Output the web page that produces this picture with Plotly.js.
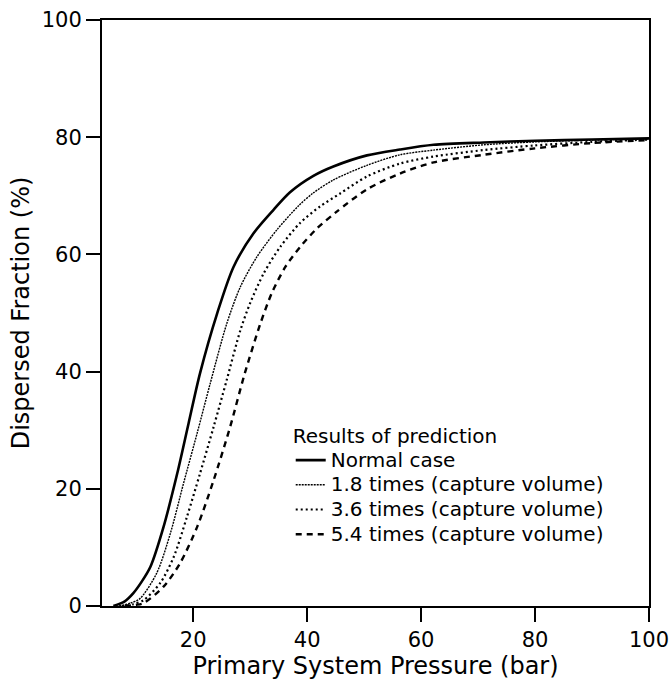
<!DOCTYPE html>
<html>
<head>
<meta charset="utf-8">
<script src="https://cdn.plot.ly/plotly-3.0.1.min.js"></script>
<style>html,body{margin:0;padding:0;background:#fff;}#chart{width:672px;height:689px;}</style>
</head>
<body>
<div id="chart"></div>
<script>
// Data
const seriesNames = ["Normal case", "1.8 times (capture volume)", "3.6 times (capture volume)", "5.4 times (capture volume)"];

const normalX = [6, 8, 9.5, 11, 12.5, 14.8, 17.2, 19.2, 21.2, 24.2, 27.1, 30.6, 34.1, 37, 41.1, 44.6, 50.5, 56.3, 62.2, 71, 80, 90, 100];
const normalY = [0, 0.8, 2.2, 4.2, 6.7, 13.5, 22.6, 31.2, 39.7, 49.9, 57.9, 63.6, 67.6, 70.6, 73.4, 75.0, 76.9, 77.9, 78.7, 79.1, 79.4, 79.6, 79.8];

const t18X = [7, 9, 10.7, 13.6, 16, 18.3, 20.7, 23, 25.9, 28.3, 31.2, 34.7, 38.5, 41.1, 44.6, 50.5, 56.3, 62.2, 71, 80, 90, 100];
const t18Y = [0, 0.5, 1.3, 5.6, 12.4, 20.9, 29.5, 38, 48.2, 54.5, 59.6, 64.2, 68.3, 70.5, 72.7, 75.2, 77, 77.8, 78.7, 79.2, 79.5, 79.7];

const t36X = [7.5, 9.5, 11.3, 14.2, 16.6, 18.9, 21.2, 23.6, 25.9, 28.3, 30, 32.4, 35.3, 38.8, 42.3, 45.8, 50.5, 56.3, 62.2, 71, 80, 90, 100];
const t36Y = [0, 0.3, 1, 3.9, 8.4, 15.2, 22.6, 30.6, 38.6, 47.1, 51.7, 56.8, 61.3, 65.4, 68.2, 70.4, 73.3, 75.5, 76.7, 77.8, 78.6, 79.2, 79.6];

const t54X = [8, 10, 11.3, 14.8, 17.7, 20.7, 23.6, 26.5, 29, 31.8, 33.8, 36.2, 38.8, 41.7, 45.2, 50.5, 56.3, 62.2, 71, 80, 90, 100];
const t54Y = [0, 0.2, 0.5, 3.3, 7.3, 13.5, 21.5, 30.6, 39.5, 48.2, 53.4, 57.9, 61.3, 64.4, 67.3, 71.1, 73.8, 75.7, 77, 78.1, 79, 79.5];

const xTicks = [20, 40, 60, 80, 100];
const yTicks = [0, 20, 40, 60, 80, 100];

const FONT = "DejaVu Sans, sans-serif";
const big = s => '<span style="font-size:20px">' + s + '</span>';

const traces = [
  {x: normalX, y: normalY, name: big(seriesNames[0]), mode: "lines", line: {color: "#000", width: 2.6, shape: "spline", smoothing: 0.8, dash: "solid"}},
  {x: t18X, y: t18Y, name: big(seriesNames[1]), mode: "lines", line: {color: "#000", width: 1.4, shape: "spline", smoothing: 0.8, dash: "2px,1px"}},
  {x: t36X, y: t36Y, name: big(seriesNames[2]), mode: "lines", line: {color: "#000", width: 2.2, shape: "spline", smoothing: 0.8, dash: "2px,3px"}},
  {x: t54X, y: t54Y, name: big(seriesNames[3]), mode: "lines", line: {color: "#000", width: 2.4, shape: "spline", smoothing: 0.8, dash: "6px,5px"}}
];

const layout = {
  width: 672, height: 689,
  margin: {l: 102, r: 23, t: 20, b: 83},
  paper_bgcolor: "#fff", plot_bgcolor: "#fff",
  font: {family: FONT, color: "#000", size: 20},
  showlegend: true,
  legend: {
    x: 0.345, y: 0.323, xanchor: "left", yanchor: "top",
    bgcolor: "rgba(0,0,0,0)", borderwidth: 0,
    font: {family: FONT, size: 16.7, color: "#000"},
    title: {text: "Results of prediction", font: {family: FONT, size: 20, color: "#000"}},
    tracegroupgap: 0
  },
  xaxis: {
    range: [4, 100], tickvals: xTicks, ticktext: xTicks.map(String),
    ticks: "outside", ticklen: 14, tickwidth: 2, tickcolor: "#000",
    showline: true, linewidth: 2, linecolor: "#000", mirror: true,
    showgrid: false, zeroline: false,
    tickfont: {family: FONT, size: 21, color: "#000"},
    title: {text: "Primary System Pressure (bar)", font: {family: FONT, size: 24, color: "#000"}, standoff: 4}
  },
  yaxis: {
    range: [0, 100], tickvals: yTicks, ticktext: yTicks.map(String),
    ticks: "outside", ticklen: 14, tickwidth: 2, tickcolor: "#000",
    showline: true, linewidth: 2, linecolor: "#000", mirror: true,
    showgrid: false, zeroline: false,
    tickfont: {family: FONT, size: 21, color: "#000"},
    title: {text: "Dispersed Fraction (%)", font: {family: FONT, size: 24, color: "#000"}, standoff: 5}
  }
};

Plotly.newPlot("chart", traces, layout, {displayModeBar: false, staticPlot: true});
</script>
</body>
</html>
